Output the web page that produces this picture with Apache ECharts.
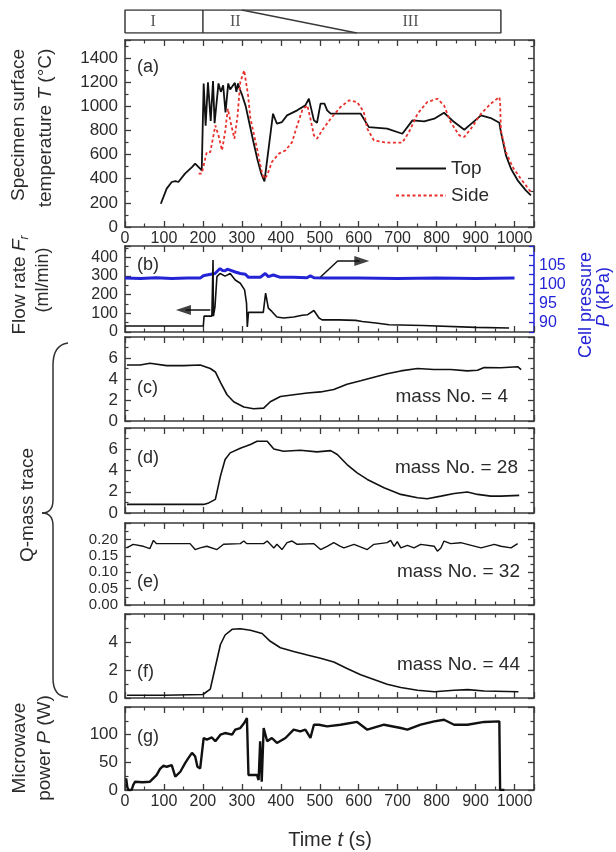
<!DOCTYPE html>
<html><head><meta charset="utf-8">
<script src="https://cdn.jsdelivr.net/npm/echarts@6/dist/echarts.min.js"></script>
<style>
html,body{margin:0;padding:0;background:#fff}
#wrap{position:relative;width:616px;height:852px}
.layer{position:absolute;left:0;top:0;width:616px;height:852px}
</style>
</head><body><div id="wrap"></div><script>
// ---------------- data ----------------
const bandLabels = ['I', 'II', 'III'];
const bandLabelT = [72, 283, 733];
const bandBox = [[0,0],[965,0],[965,1],[0,1],[0,0]];
const bandDivider = [[200,0],[200,1]];
const bandDiagonal = [[300,1],[595,0]];

const tempTop = [[92,193],[107,318],[120,373],[129,381],[137,373],[154,442],[172,497],[180,525],[189,497],[197,470],[200,470],[202,1190],[207,840],[213,1200],[220,880],[226,1210],[230,860],[240,1190],[246,1120],[252,1175],[258,950],[265,1190],[270,1140],[282,1195],[286,1120],[290,1190],[295,1140],[300,1100],[310,1000],[320,850],[330,700],[340,560],[350,440],[358,378],[380,939],[390,856],[403,870],[416,925],[442,967],[463,1008],[472,1063],[476,1008],[485,884],[493,864],[502,1022],[512,1022],[519,967],[528,939],[605,939],[626,828],[673,815],[712,773],[738,884],[768,875],[794,898],[819,947],[845,870],[871,806],[884,842],[914,925],[939,903],[961,864],[965,787],[978,594],[991,483],[1008,387],[1029,304],[1042,262]];
const tempSide = [[189,442],[197,442],[210,621],[219,621],[232,842],[240,760],[249,635],[257,787],[264,980],[273,842],[281,732],[289,925],[296,1201],[306,1298],[316,1091],[322,898],[339,649],[352,442],[358,400],[365,428],[377,539],[395,608],[412,635],[429,704],[442,842],[455,967],[468,1008],[476,898],[485,760],[493,732],[506,801],[528,898],[553,994],[575,1049],[596,1036],[613,953],[622,815],[639,718],[673,699],[712,699],[729,787],[751,939],[776,1036],[802,1063],[819,1008],[836,870],[858,760],[871,746],[888,815],[914,939],[939,1022],[961,1077],[963,1036],[965,801],[978,621],[995,497],[1016,400],[1042,290]];

const flowRate = [[0,32],[201,33],[203,85],[223,85],[225,85],[226,385],[227,85],[231,135],[236,296],[244,313],[257,299],[270,313],[283,278],[296,261],[307,225],[312,154],[314,27],[316,27],[317,105],[355,105],[361,208],[368,128],[377,110],[390,80],[407,75],[433,80],[455,90],[468,92],[472,88],[485,115],[498,75],[506,65],[549,65],[592,62],[609,56],[644,48],[678,39],[764,35],[900,25],[986,21]];
const cellPressure = [[0,101.6],[40,101.5],[80,101.7],[120,101.5],[160,101.6],[193,101.6],[201,102.2],[210,102.4],[231,102.8],[244,104.1],[250,103.6],[257,103.5],[263,103.9],[270,103.7],[283,103.2],[296,102.8],[309,102.6],[317,101.8],[347,101.8],[360,102.8],[368,102.0],[381,102.4],[399,101.8],[433,101.8],[467,101.7],[476,102.2],[485,101.7],[520,101.6],[600,101.6],[700,101.5],[800,101.6],[900,101.5],[1000,101.6]];
const arrowLeftShaft = [[219,118],[156,118]];
const arrowLeftHead = [150,118];
const arrowRightShaft = [[502,294],[546,380],[602,380]];
const arrowRightHead = [608,380];

const mass4 = [[5,5.33],[39,5.33],[64,5.5],[107,5.27],[150,5.27],[193,5.33],[219,5.0],[232,4.67],[245,3.67],[262,2.5],[279,1.83],[305,1.33],[330,1.17],[356,1.23],[373,1.83],[399,2.33],[433,2.5],[468,2.67],[502,2.77],[536,3.0],[570,3.5],[605,3.83],[639,4.17],[673,4.5],[708,4.77],[751,5.0],[793,4.9],[836,4.9],[879,4.77],[905,4.83],[922,5.1],[965,5.07],[1008,5.17],[1017,4.9]];
const mass28 = [[5,0.81],[202,0.81],[215,0.95],[232,1.28],[245,3.47],[257,5.03],[270,5.66],[296,6.1],[322,6.44],[339,6.75],[365,6.75],[382,6.03],[407,5.81],[450,5.9],[493,5.75],[528,5.87],[545,5.5],[570,4.56],[596,3.78],[622,3.16],[665,2.38],[708,1.75],[751,1.44],[776,1.34],[811,1.59],[845,1.84],[879,1.97],[905,1.75],[939,1.59],[965,1.59],[1012,1.66]];
const mass32 = [[4,0.174],[21,0.185],[47,0.179],[64,0.172],[73,0.197],[81,0.187],[167,0.187],[180,0.169],[193,0.174],[210,0.179],[236,0.169],[253,0.185],[296,0.187],[305,0.195],[313,0.187],[356,0.187],[365,0.195],[373,0.185],[382,0.174],[390,0.185],[403,0.169],[416,0.190],[429,0.195],[442,0.185],[485,0.187],[502,0.169],[519,0.179],[536,0.190],[553,0.179],[562,0.174],[588,0.185],[622,0.169],[639,0.185],[673,0.190],[682,0.197],[691,0.179],[699,0.193],[708,0.174],[725,0.182],[742,0.174],[759,0.185],[794,0.179],[802,0.164],[811,0.174],[819,0.195],[836,0.187],[862,0.190],[879,0.185],[914,0.174],[948,0.185],[965,0.179],[991,0.174],[1008,0.187]];
const mass44 = [[5,0.2],[100,0.2],[200,0.25],[219,0.64],[232,2.23],[245,3.82],[257,4.5],[275,4.91],[296,4.95],[322,4.84],[352,4.61],[373,4.05],[399,3.59],[433,3.32],[468,3.07],[502,2.84],[536,2.57],[570,2.11],[605,1.66],[639,1.32],[673,0.98],[708,0.75],[751,0.55],[794,0.45],[845,0.55],[880,0.6],[922,0.5],[1010,0.45]];
const power = [[3,21],[6,5],[9,0],[17,0],[21,9],[26,15],[45,14],[64,15],[81,27],[90,38],[99,44],[107,42],[120,45],[129,24],[142,33],[154,48],[163,58],[172,67],[180,61],[186,42],[193,39],[202,94],[210,91],[223,95],[232,88],[245,100],[257,103],[275,100],[283,109],[296,112],[306,121],[313,130],[317,27],[339,27],[343,18],[347,88],[351,15],[356,112],[365,88],[377,94],[390,85],[412,94],[433,109],[450,106],[463,109],[476,94],[485,118],[498,118],[519,115],[553,118],[596,123],[622,109],[665,118],[708,112],[725,109],[759,118],[794,124],[819,127],[845,118],[879,118],[922,123],[961,124],[963,0],[974,0]];

const massLabels = ['mass No. = 4', 'mass No. = 28', 'mass No. = 32', 'mass No. = 44'];
const panelLabels = ['(a)','(b)','(c)','(d)','(e)','(f)','(g)'];

// ---------------- layout/style ----------------
const FRAME = '#3a3a3a', TXT = '#2b2b2b', BLUE = '#2424d6', RED = '#e8312c';
const FONT = '"Liberation Sans", Arial, sans-serif';
const LEFT = 125, WIDTH = 409;

const tickCfg = (color) => ({show:true, inside:true, length:6, lineStyle:{color:color || FRAME, width:1.3}});
const minorCfg = (n) => ({show:n > 1, splitNumber:n || 2, length:3.5, lineStyle:{color:FRAME, width:1.2}});
const lineCfg = (color) => ({show:true, onZero:false, lineStyle:{color:color || FRAME, width:1.6}});

const lineS = (data, color, width, type, yi, name) => ({
  name, type:'line', data, xAxisIndex:0, yAxisIndex:yi || 0, symbol:'none',
  lineStyle:{color, width, type: type || 'solid'}, itemStyle:{color}
});
const headS = (pt, rot) => ({type:'scatter', xAxisIndex:0, yAxisIndex:0,
  symbol:'triangle', symbolSize:[10,15], symbolRotate:rot, itemStyle:{color:'#111'}, data:[pt]});

function frameAxes(p){
  const xAxis = ['bottom','top'].map(pos => ({
    type:'value', min:0, max:1050, interval:100, position:pos,
    splitLine:{show:false}, axisLine:lineCfg(), axisTick:tickCfg(), minorTick:minorCfg(2),
    axisLabel: (pos === 'bottom' && p.xLabels) ?
      {show:true, showMaxLabel:false, hideOverlap:false, color:TXT, fontSize:16, fontFamily:FONT, margin:4, formatter:v => String(v)} :
      {show:false}
  }));
  const y = p.y;
  const yAxis = [
    {type:'value', min:y.min, max:y.max, interval:y.interval, position:'left',
     splitLine:{show:false}, axisLine:lineCfg(), axisTick:tickCfg(), minorTick:minorCfg(y.minor),
     axisLabel:{show:true, showMaxLabel:false, showMinLabel:true, hideOverlap:false, color:TXT,
       fontSize:y.fs, lineHeight:y.fs, fontFamily:FONT, margin:7, formatter:y.fmt}},
    p.right || {type:'value', min:y.min, max:y.max, interval:y.interval, position:'right',
     splitLine:{show:false}, axisLine:lineCfg(), axisTick:tickCfg(), minorTick:minorCfg(y.minor),
     axisLabel:{show:false}}
  ];
  return {xAxis, yAxis};
}

const intFmt = v => String(v);
const panels = [
  {top:40, height:187, xLabels:true, y:{min:0, max:1550, interval:200, minor:2, fs:17, fmt:intFmt},
   series:[lineS(tempTop, '#111', 1.8, null, 0, 'Top'), lineS(tempSide, RED, 1.8, [3, 2.5], 0, 'Side')],
   legend:{data:['Top','Side'], orient:'vertical', left:390, top:154, itemWidth:50, itemHeight:20, itemGap:8,
     itemStyle:{opacity:0}, textStyle:{fontSize:19, color:TXT, fontFamily:FONT}, selectedMode:false}},
  {top:246, height:86, y:{min:0, max:460, interval:100, minor:2, fs:16, fmt:intFmt},
   right:{type:'value', position:'right', min:87.5, max:110, interval:2.5,
     splitLine:{show:false}, axisLine:lineCfg(BLUE),
     axisTick:{show:true, inside:true, length:5, lineStyle:{color:BLUE, width:1.3}},
     minorTick:{show:false},
     axisLabel:{show:true, showMinLabel:true, hideOverlap:false, color:BLUE, fontSize:16, lineHeight:16, fontFamily:FONT, margin:5,
       formatter: v => (v % 5 === 0 && v < 110) ? String(v) : ''}},
   series:[lineS(cellPressure, BLUE, 3, null, 1), lineS(flowRate, '#111', 1.6),
     lineS(arrowLeftShaft, '#111', 1.5), lineS(arrowRightShaft, '#111', 1.5),
     headS(arrowLeftHead, 90), headS(arrowRightHead, -90)]},
  {top:337, height:84, y:{min:0, max:8, interval:2, minor:2, fs:17, fmt:intFmt}, series:[lineS(mass4, '#111', 1.6)]},
  {top:428, height:85, y:{min:0, max:8, interval:2, minor:2, fs:17, fmt:intFmt}, series:[lineS(mass28, '#111', 1.6)]},
  {top:523, height:82, y:{min:0, max:0.25, interval:0.05, minor:2, fs:15, fmt:v => v.toFixed(2)}, series:[lineS(mass32, '#111', 1.4)]},
  {top:614, height:84, y:{min:0, max:6, interval:2, minor:2, fs:17, fmt:intFmt}, series:[lineS(mass44, '#111', 1.6)]},
  {top:707, height:83, xLabels:true, y:{min:0, max:150, interval:50, minor:2, fs:17, fmt:intFmt}, series:[lineS(power, '#111', 2.4)]}
];

// ---------------- annotations ----------------
const txt = (x, y, text, opt) => ({type:'text', x, y,
  rotation: (opt && opt.rot) || 0,
  style:{text, fill:(opt && opt.fill) || TXT, font:`${(opt&&opt.size)||18}px ${FONT}`,
    textAlign:(opt&&opt.align)||'center', textVerticalAlign:'middle',
    rich:{i:{fontStyle:'italic', fontSize:(opt&&opt.size)||18, fontFamily:FONT, fill:(opt&&opt.fill)||TXT},
          sub:{fontStyle:'italic', fontSize:12, fontFamily:FONT, fill:TXT, padding:[10,0,0,0]}}}});
const R = Math.PI / 2;
const panelY = [67, 265, 388, 458, 582, 672, 737];
const massY = [397, 468, 572, 665];
const massX = [508, 518, 520, 520];
const braceStyle = {fill:'none', stroke:'#333', lineWidth:1.5};
const curve = (x1,y1,cx,cy,x2,y2) => ({type:'bezierCurve', shape:{x1, y1, cpx1:cx, cpy1:cy, x2, y2}, style:braceStyle});
const seg = (x1,y1,x2,y2) => ({type:'line', shape:{x1,y1,x2,y2}, style:braceStyle});
const graphic = [
  ...panelLabels.map((l, i) => txt(137, panelY[i], l, {align:'left', size:18})),
  ...massLabels.map((l, i) => txt(massX[i], massY[i], l, {align:'right', size:19})),
  txt(19, 125, 'Specimen surface', {rot:R, size:19}),
  txt(46, 128, 'temperature {i|T} (°C)', {rot:R, size:19}),
  txt(20, 285, 'Flow rate {i|F}{sub|r}', {rot:R, size:19}),
  txt(43, 280, '(ml/min)', {rot:R, size:18}),
  txt(586, 305, 'Cell pressure', {rot:R, size:18, fill:BLUE}),
  txt(604, 297, '{i|P} (kPa)', {rot:R, size:18, fill:BLUE}),
  txt(28, 505, 'Q-mass trace', {rot:R, size:19}),
  txt(20, 748, 'Microwave', {rot:R, size:19}),
  txt(45, 748, 'power {i|P} (W)', {rot:R, size:19}),
  txt(330, 840, 'Time {i|t} (s)', {size:20}),
  curve(68,343, 53,345, 53,365),
  seg(53,365, 53,500),
  curve(53,500, 53,513, 42,513),
  curve(42,513, 53,513, 53,526),
  seg(53,526, 53,678),
  curve(53,678, 53,697, 68,697)
];

// ---------------- render (one transparent layer per panel) ----------------
const wrap = document.getElementById('wrap');
function layer(option){
  const d = document.createElement('div');
  d.className = 'layer';
  wrap.appendChild(d);
  const ch = echarts.init(d);
  ch.setOption(Object.assign({animation:false, backgroundColor:'transparent'}, option));
  return ch;
}

// phase band
layer({
  grid:{left:LEFT, width:WIDTH, top:10, height:23},
  xAxis:{type:'value', min:0, max:1050, show:false},
  yAxis:{type:'value', min:0, max:1, show:false},
  series:[
    lineS(bandBox, FRAME, 1.5), lineS(bandDivider, FRAME, 1.5), lineS(bandDiagonal, FRAME, 1.5),
    {type:'scatter', xAxisIndex:0, yAxisIndex:0, symbolSize:1, itemStyle:{color:'rgba(0,0,0,0)'},
     data: bandLabels.map((n, i) => ({name:n, value:[bandLabelT[i], 0.5]})),
     label:{show:true, position:'inside', formatter:p => p.name, color:TXT, fontSize:16, fontFamily:'"Liberation Serif", serif'}}
  ]
});

panels.forEach(p => {
  const ax = frameAxes(p);
  const opt = {grid:{left:LEFT, width:WIDTH, top:p.top, height:p.height}, xAxis:ax.xAxis, yAxis:ax.yAxis, series:p.series};
  if (p.legend) opt.legend = p.legend;
  layer(opt);
});

layer({graphic});
</script></body></html>
